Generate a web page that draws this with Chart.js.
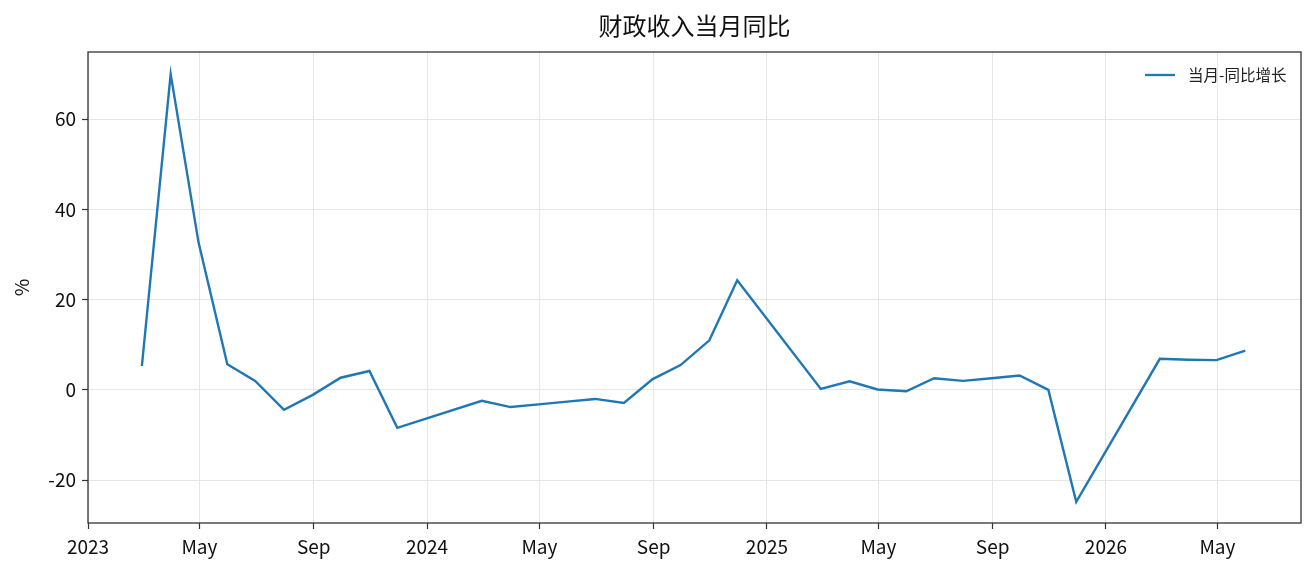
<!DOCTYPE html>
<html>
<head>
<meta charset="utf-8">
<title>财政收入当月同比</title>
<script src="https://cdn.jsdelivr.net/npm/chart.js"></script>
<style>
  html, body { margin: 0; padding: 0; background: #fff; }
  #wrap { width: 1316px; height: 574px; position: relative; }
</style>
</head>
<body>
<div id="wrap"><canvas id="c"></canvas></div>
<script>
// month-end dates of each release (Dec/Jan are not published separately)
const dates = [
  '2023-02-28', '2023-03-31', '2023-04-30', '2023-05-31', '2023-06-30', '2023-07-31',
  '2023-08-31', '2023-09-30', '2023-10-31', '2023-11-30',
  '2024-02-29', '2024-03-31', '2024-04-30', '2024-05-31', '2024-06-30', '2024-07-31',
  '2024-08-31', '2024-09-30', '2024-10-31', '2024-11-30',
  '2025-02-28', '2025-03-31', '2025-04-30', '2025-05-31', '2025-06-30', '2025-07-31',
  '2025-08-31', '2025-09-30', '2025-10-31', '2025-11-30',
  '2026-02-28', '2026-03-31', '2026-04-30', '2026-05-31'
]
const yoy = [
  5.3, 70.0, 32.7, 5.7, 2.0, -4.4,
  -1.1, 2.7, 4.2, -8.4,
  -2.4, -3.8, -3.2, -2.6, -2.0, -2.9,
  2.4, 5.5, 11.0, 24.3,
  0.2, 1.9, 0.1, -0.3, 2.6, 2.0,
  2.6, 3.2, 0.0, -24.8,
  6.9, 6.7, 6.6, 8.7
]
const seriesName = '当月-同比增长'
const titleText = '财政收入当月同比'

const xTickDates = ['2023-01-01', '2023-05-01', '2023-09-01', '2024-01-01', '2024-05-01', '2024-09-01',
  '2025-01-01', '2025-05-01', '2025-09-01', '2026-01-01', '2026-05-01']
const xTickLabels = ['2023', 'May', 'Sep', '2024', 'May', 'Sep', '2025', 'May', 'Sep', '2026', 'May']
const yTicks = [-20, 0, 20, 40, 60]

const ms = s => Date.parse(s + 'T00:00:00Z')
const FONT = '"Noto Sans CJK SC", "Noto Sans", sans-serif'

const points = dates.map((d, i) => ({ x: ms(d), y: yoy[i] }))
const xTickVals = xTickDates.map(ms)

// frame, title centred over the plot, legend inside top-right
const framePlugin = {
  id: 'frame',
  afterDraw(chart) {
    const { ctx, chartArea: a } = chart
    ctx.save()
    ctx.strokeStyle = '#333'
    ctx.lineWidth = 1.3
    ctx.strokeRect(a.left, a.top, a.right - a.left, a.bottom - a.top)

    ctx.fillStyle = '#111'
    ctx.font = '24px ' + FONT
    ctx.textAlign = 'center'
    ctx.textBaseline = 'middle'
    ctx.fillText(titleText, (a.left + a.right) / 2, 26)

    const ly = a.top + 23
    ctx.strokeStyle = '#1f77b4'
    ctx.lineWidth = 2.3
    ctx.beginPath()
    ctx.moveTo(a.right - 156, ly)
    ctx.lineTo(a.right - 126, ly)
    ctx.stroke()
    ctx.fillStyle = '#222'
    ctx.font = '15.5px ' + FONT
    ctx.textAlign = 'left'
    ctx.fillText(chart.data.datasets[0].label, a.right - 113, ly)
    ctx.restore()
  }
}

new Chart(document.getElementById('c'), {
  type: 'line',
  data: {
    datasets: [{
      label: seriesName,
      data: points,
      borderColor: '#1f77b4',
      borderWidth: 2.4,
      pointRadius: 0,
      tension: 0
    }]
  },
  options: {
    responsive: true,
    maintainAspectRatio: false,
    animation: false,
    devicePixelRatio: 1,
    layout: { padding: { left: 0, right: 15, top: 52, bottom: 0 } },
    plugins: {
      legend: { display: false },
      tooltip: { enabled: false },
      title: { display: false }
    },
    scales: {
      x: {
        type: 'linear',
        min: ms('2023-01-01'),
        max: ms('2026-07-30'),
        afterBuildTicks: s => { s.ticks = xTickVals.map(v => ({ value: v })) },
        afterFit: s => { s.height = 51 },
        ticks: {
          autoSkip: false,
          maxRotation: 0,
          color: '#111',
          padding: 6,
          font: { family: FONT, size: 19 },
          callback: (v) => xTickLabels[xTickVals.indexOf(v)]
        },
        grid: { color: '#e6e6e6', lineWidth: 1, tickColor: '#333', tickLength: 6, tickWidth: 1.2 },
        border: { display: false }
      },
      y: {
        min: -29.5,
        max: 74.9,
        afterBuildTicks: s => { s.ticks = yTicks.map(v => ({ value: v })) },
        afterFit: s => { s.width = 88 },
        ticks: {
          color: '#111',
          padding: 6,
          font: { family: FONT, size: 19 }
        },
        grid: { color: '#e6e6e6', lineWidth: 1, tickColor: '#333', tickLength: 6, tickWidth: 1.2 },
        border: { display: false },
        title: {
          display: true,
          text: '%',
          color: '#111',
          font: { family: FONT, size: 19 },
          padding: { top: 10, bottom: 0 }
        }
      }
    }
  },
  plugins: [framePlugin]
})
</script>
</body>
</html>
